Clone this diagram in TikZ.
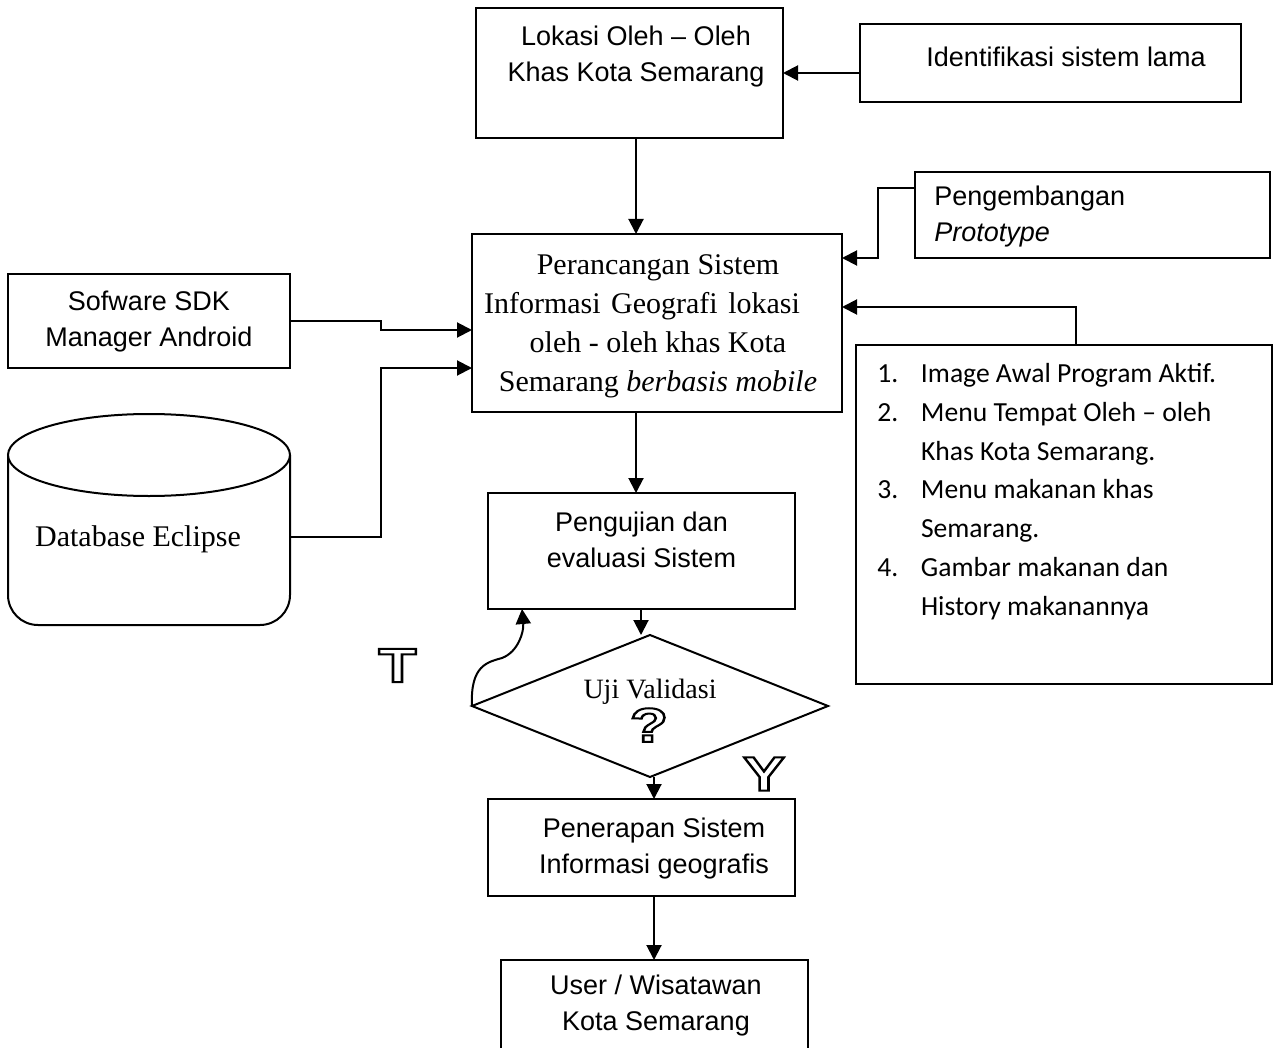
\documentclass[tikz,border=0pt]{standalone}
\usepackage{graphicx}
\usepackage{fontspec}
\setmainfont{Liberation Sans}
\newfontfamily\tnr{Liberation Serif}
\newfontfamily\calfont{Carlito}
\usetikzlibrary{shapes.geometric,arrows.meta}
\newcommand{\outl}[1]{\special{pdf:literal direct 1 Tr 1 w}\scalebox{1.3}[1]{#1}\special{pdf:literal direct 0 Tr}}
\begin{document}
\begin{tikzpicture}[x=0.5pt,y=-0.5pt,
  box/.style={draw,line width=1pt,inner sep=0pt,outer sep=0pt},
  txt/.style={inner sep=0pt,align=center,font=\fontsize{13.5}{18}\selectfont},
  ser/.style={inner sep=0pt,align=center,font=\tnr\fontsize{15}{19.5}\selectfont},
  big/.style={inner sep=0pt,font=\bfseries\fontsize{24}{24}\selectfont},
  arr/.style={-{Triangle[length=7.5pt,width=7.5pt]},line width=1pt},
  ln/.style={line width=1pt}]
\useasboundingbox (0,0) rectangle (1273,1048);
\clip (0,0) rectangle (1273,1048);

% boxes
\node[box,minimum width=153.5pt,minimum height=65pt] (lok) at (629.5,73) {};
\node[txt] (lokt) at (636,57) {Lokasi Oleh – Oleh\\Khas Kota Semarang};

\node[box,minimum width=190.5pt,minimum height=39pt] (idf) at (1050.5,63) {};
\node[txt] (idft) at (1066,57) {Identifikasi sistem lama};

\node[box,minimum width=185pt,minimum height=89pt] (per) at (657,323) {};
\node[ser] (pert) at (658,326) {Perancangan Sistem\\\hspace*{-16pt}Informasi\hspace{1.5pt} Geografi\hspace{1.5pt} lokasi\\oleh - oleh khas Kota\\Semarang \textit{berbasis mobile}};

\node[box,minimum width=177.5pt,minimum height=43pt] (peng) at (1092.5,215) {};
\node[txt,align=left,anchor=west] (pengt) at (934,217) {Pengembangan\\\textit{Prototype}};

\node[box,minimum width=208pt,minimum height=169.5pt] (lst) at (1064,514.5) {};
\node[inner sep=0pt,align=left,anchor=north west,font=\calfont\fontsize{13.8}{19.4}\selectfont] (lstt) at (877,363)
 {\makebox[21.8pt][l]{1.}Image Awal Program Aktif.\\
  \makebox[21.8pt][l]{2.}Menu Tempat Oleh – oleh\\
  \hspace*{21.8pt}Khas Kota Semarang.\\
  \makebox[21.8pt][l]{3.}Menu makanan khas\\
  \hspace*{21.8pt}Semarang.\\
  \makebox[21.8pt][l]{4.}Gambar makanan dan\\
  \hspace*{21.8pt}History makanannya};

\node[box,minimum width=141pt,minimum height=47pt] (sdk) at (149,321) {};
\node[txt] (sdkt) at (149,321.5) {Sofware SDK\\Manager Android};

% database cylinder
\draw[ln,rounded corners=15pt] (8,455) -- (8,625) -- (290,625) -- (290,455);
\draw[ln,fill=white] (149,455) ellipse [x radius=70.5pt,y radius=20.5pt];
\node[ser] (dbt) at (138,539) {Database Eclipse};
\coordinate (db) at (290,537);

\node[box,minimum width=153.5pt,minimum height=58pt] (uji) at (641.5,551) {};
\node[txt] (ujit) at (641.5,540) {Pengujian dan\\evaluasi Sistem};

\node[box,diamond,minimum width=178pt,minimum height=71pt] (dia) at (650,706) {};
\node[ser,font=\tnr\fontsize{14}{16}\selectfont] (diat) at (650,692) {Uji Validasi};
\node[big] (q) at (649,725) {\outl{?}};

\node[big] (tl) at (397.5,665.5) {\outl{T}};
\node[big] (yl) at (764,774) {\outl{Y}};

\node[box,minimum width=153.5pt,minimum height=48.5pt] (pen) at (641.5,847.5) {};
\node[txt] (pent) at (654,848.5) {Penerapan Sistem\\Informasi geografis};

\node[box,minimum width=153.5pt,minimum height=55pt] (usr) at (654.5,1015) {};
\node[txt] (usrt) at (656,1006) {User / Wisatawan\\Kota Semarang};

% connectors
\draw[arr] (idf.west |- 0,73) -- (lok.east |- 0,73);
\draw[arr] (636,0 |- lok.south) -- (636,0 |- per.north);
\draw[arr] (peng.west |- 0,188) -| (878,258) -- (per.east |- 0,258);
\draw[arr] (1076,0 |- lst.north) |- (per.east |- 0,307);
\draw[arr] (sdk.east) -- (381,321) |- (per.west |- 0,330);
\draw[arr] (db) -| (381,368) -- (per.west |- 0,368);
\draw[arr] (636,0 |- per.south) -- (636,0 |- uji.north);
\draw[arr] (641,0 |- uji.south) -- (641,0 |- dia.north);
\draw[arr] (dia.west) .. controls (470,665) and (488,662) .. (502,658)
  .. controls (518,652) and (524,632) .. (522,0 |- uji.south);
\draw[arr] (654,0 |- dia.south) -- (654,0 |- pen.north);
\draw[arr] (654,0 |- pen.south) -- (654,0 |- usr.north);
\end{tikzpicture}
\end{document}
